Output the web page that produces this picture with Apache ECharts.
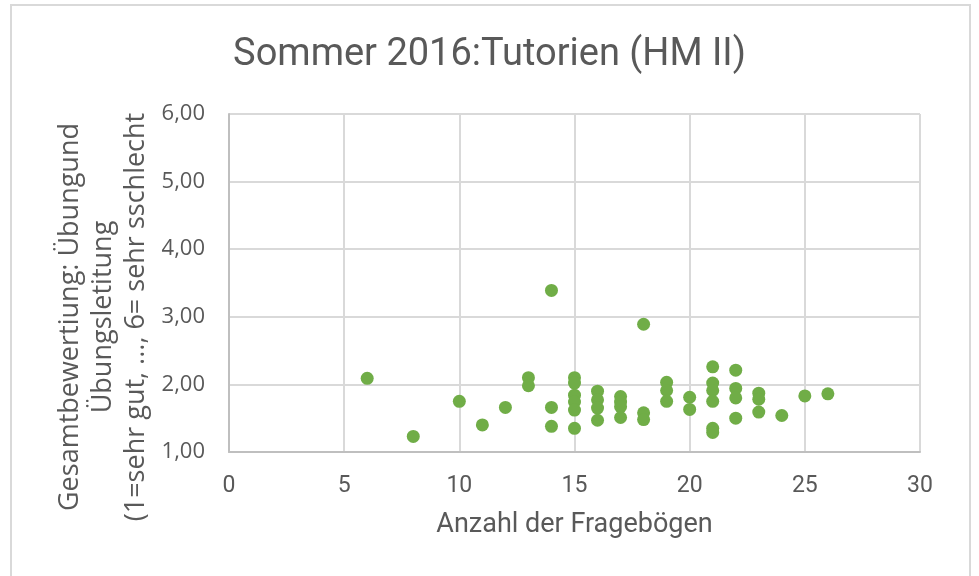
<!DOCTYPE html>
<html>
<head>
<meta charset="utf-8">
<script src="https://cdn.jsdelivr.net/npm/echarts@6/dist/echarts.min.js"></script>
<style>
html, body { margin: 0; padding: 0; background: #fff; }
#main { width: 979px; height: 576px; }
</style>
</head>
<body>
<div id="main"></div>
<script>
// Anzahl der Fragebögen (x) und Gesamtbewertung (y)
var fragebogen = [6, 8, 10, 11, 12, 13, 13, 14, 14, 14,
  15, 15, 15, 15, 15, 15,
  16, 16, 16, 16,
  17, 17, 17, 17,
  18, 18, 18,
  19, 19, 19,
  20, 20,
  21, 21, 21, 21, 21, 21,
  22, 22, 22, 22,
  23, 23, 23,
  24, 25, 26];
var bewertung = [2.09, 1.23, 1.75, 1.40, 1.66, 2.10, 1.98, 3.39, 1.66, 1.38,
  2.10, 2.02, 1.84, 1.74, 1.62, 1.35,
  1.90, 1.77, 1.65, 1.47,
  1.82, 1.74, 1.67, 1.51,
  2.89, 1.58, 1.48,
  2.03, 1.91, 1.75,
  1.81, 1.63,
  2.26, 2.02, 1.91, 1.75, 1.35, 1.29,
  2.21, 1.94, 1.80, 1.50,
  1.87, 1.78, 1.59,
  1.54, 1.83, 1.86];
var yTicks = [1, 2, 3, 4, 5, 6];
var xTicks = [0, 5, 10, 15, 20, 25, 30];

var points = [];
for (var i = 0; i < fragebogen.length; i++) {
  points.push([fragebogen[i], bewertung[i]]);
}

var myChart = echarts.init(document.getElementById("main"));
myChart.setOption({
  animation: false,
  title: {
    text: "Sommer 2016:Tutorien (HM II)",
    left: "center",
    top: 31,
    textStyle: {
      fontFamily: "Roboto, sans-serif",
      fontSize: 38,
      fontWeight: "normal",
      color: "#595959"
    }
  },
  graphic: [
    {
      type: "rect",
      shape: { x: 11, y: 5, width: 959, height: 580 },
      style: { fill: "none", stroke: "#d9d9d9", lineWidth: 2 },
      silent: true
    },
    {
      type: "text",
      x: 103,
      y: 317,
      rotation: Math.PI / 2,
      style: {
        text: "Gesamtbewertiung: Übungund\nÜbungsletitung\n(1=sehr gut, ..., 6= sehr sschlecht",
        fontFamily: "Open Sans, sans-serif",
        fontSize: 27,
        lineHeight: 33,
        fill: "#595959",
        align: "center",
        verticalAlign: "middle"
      }
    }
  ],
  grid: {
    left: 229,
    right: 59,
    top: 114,
    bottom: 124
  },
  xAxis: {
    type: "value",
    min: xTicks[0],
    max: xTicks[xTicks.length - 1],
    interval: 5,
    name: "Anzahl der Fragebögen",
    nameLocation: "middle",
    nameGap: 60,
    nameTextStyle: {
      fontFamily: "Roboto, sans-serif",
      fontSize: 27,
      color: "#595959"
    },
    axisLine: { show: true, lineStyle: { color: "#bfbfbf", width: 2 } },
    axisTick: { show: false },
    splitLine: { show: true, lineStyle: { color: "#d9d9d9", width: 2 } },
    axisLabel: {
      margin: 23,
      fontFamily: "Roboto, sans-serif",
      fontSize: 23,
      color: "#595959"
    }
  },
  yAxis: {
    type: "value",
    min: yTicks[0],
    max: yTicks[yTicks.length - 1],
    interval: 1,
    axisLine: { show: true, lineStyle: { color: "#bfbfbf", width: 2 } },
    axisTick: { show: false },
    splitLine: { show: true, lineStyle: { color: "#d9d9d9", width: 2 } },
    axisLabel: {
      margin: 24,
      fontFamily: "Open Sans, sans-serif",
      fontSize: 22,
      color: "#595959",
      formatter: function (v) { return v.toFixed(2).replace(".", ","); }
    }
  },
  series: [
    {
      type: "scatter",
      data: points,
      symbolSize: 13,
      itemStyle: { color: "#70ad47", opacity: 1 }
    }
  ]
});
</script>
</body>
</html>
